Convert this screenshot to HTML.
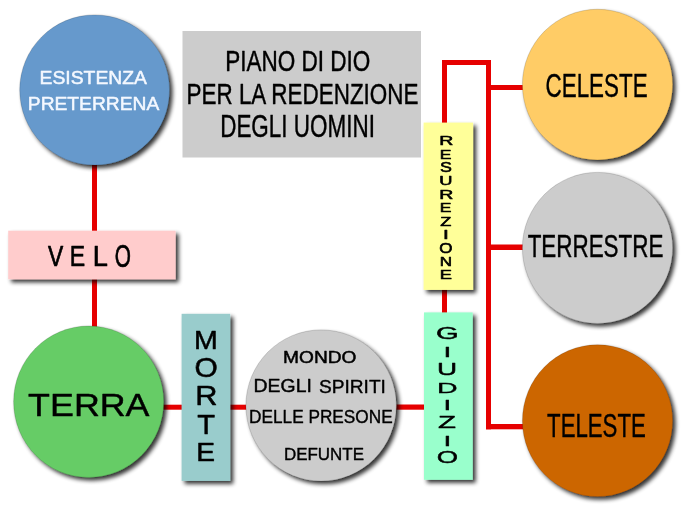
<!DOCTYPE html>
<html><head><meta charset="utf-8"><style>
html,body{margin:0;padding:0;background:#fff;width:683px;height:512px;overflow:hidden}
svg{display:block;will-change:transform}
text{font-family:"Liberation Sans",sans-serif}
</style></head><body>
<svg width="683" height="512" viewBox="0 0 683 512">
<defs><filter id="sh" x="-20%" y="-20%" width="140%" height="140%">
<feGaussianBlur in="SourceAlpha" stdDeviation="2.1"/><feOffset dx="3" dy="3" result="o"/>
<feComponentTransfer in="o" result="s"><feFuncA type="linear" slope="0.8"/></feComponentTransfer>
<feMerge><feMergeNode in="s"/><feMergeNode in="SourceGraphic"/></feMerge></filter></defs>
<rect x="92" y="150" width="5" height="180" fill="#e60000"/>
<rect x="160" y="404.7" width="90" height="5.0" fill="#e60000"/>
<rect x="390" y="404.5" width="40" height="5.2" fill="#e60000"/>
<rect x="442" y="60" width="5" height="258" fill="#e60000"/>
<rect x="442" y="60" width="49" height="5" fill="#e60000"/>
<rect x="486" y="60" width="5" height="369.3" fill="#e60000"/>
<rect x="486" y="85" width="39" height="5" fill="#e60000"/>
<rect x="486" y="244.5" width="39" height="5.5" fill="#e60000"/>
<rect x="486" y="424" width="39" height="5.3" fill="#e60000"/>
<ellipse cx="94.6" cy="90" rx="74.89999999999999" ry="75.1" fill="#6699cc" stroke="#000" stroke-opacity="0.18" stroke-width="0.8" filter="url(#sh)"/>
<rect x="182.5" y="31" width="238.5" height="126.5" fill="#cccccc"/>
<rect x="8.2" y="230.7" width="167.4" height="48.6" fill="#ffcccc" filter="url(#sh)"/>
<ellipse cx="88.65" cy="401.7" rx="75.05" ry="75.69999999999999" fill="#66cc66" stroke="#000" stroke-opacity="0.18" stroke-width="0.8" filter="url(#sh)"/>
<rect x="181.6" y="313.8" width="48.6" height="167.1" fill="#99cccc" filter="url(#sh)"/>
<ellipse cx="321.1" cy="405.5" rx="75.19999999999999" ry="75.6" fill="#cccccc" stroke="#000" stroke-opacity="0.18" stroke-width="0.8" filter="url(#sh)"/>
<rect x="424" y="312.4" width="48.7" height="167.4" fill="#99ffcc" filter="url(#sh)"/>
<rect x="423.6" y="122.6" width="49.5" height="167.3" fill="#ffff99" filter="url(#sh)"/>
<ellipse cx="597.5" cy="84.6" rx="75.1" ry="75.3" fill="#ffcc66" stroke="#000" stroke-opacity="0.18" stroke-width="0.8" filter="url(#sh)"/>
<ellipse cx="597.5" cy="247.9" rx="75.1" ry="75.5" fill="#cccccc" stroke="#000" stroke-opacity="0.18" stroke-width="0.8" filter="url(#sh)"/>
<ellipse cx="597.5" cy="420.7" rx="75.1" ry="75.89999999999999" fill="#cc6600" stroke="#000" stroke-opacity="0.18" stroke-width="0.8" filter="url(#sh)"/>
<text x="225.16" y="70.95" font-size="29.99" font-weight="normal" fill="#000" stroke="#000" stroke-width="0.45" stroke-linejoin="round" textLength="145.16" lengthAdjust="spacingAndGlyphs">PIANO DI DIO</text>
<text x="186.51" y="103.95" font-size="29.99" font-weight="normal" fill="#000" stroke="#000" stroke-width="0.45" stroke-linejoin="round" textLength="231.97" lengthAdjust="spacingAndGlyphs">PER LA REDENZIONE</text>
<text x="220.17" y="136.95" font-size="31.75" font-weight="normal" fill="#000" stroke="#000" stroke-width="0.45" stroke-linejoin="round" textLength="154.71" lengthAdjust="spacingAndGlyphs">DEGLI UOMINI</text>
<text x="39.54" y="83.54" font-size="19.28" font-weight="normal" fill="#f4f8ff" stroke="#f4f8ff" stroke-width="0.5" stroke-linejoin="round" textLength="107.42" lengthAdjust="spacingAndGlyphs">ESISTENZA</text>
<text x="27.80" y="109.56" font-size="19.03" font-weight="normal" fill="#f4f8ff" stroke="#f4f8ff" stroke-width="0.5" stroke-linejoin="round" textLength="131.50" lengthAdjust="spacingAndGlyphs">PRETERRENA</text>
<text x="28.14" y="416.46" font-size="32.16" font-weight="normal" fill="#000" stroke="#000" stroke-width="0.45" stroke-linejoin="round" textLength="121.38" lengthAdjust="spacingAndGlyphs">TERRA</text>
<text x="545.60" y="97.45" font-size="33.83" font-weight="normal" fill="#000" stroke="#000" stroke-width="0.45" stroke-linejoin="round" textLength="101.96" lengthAdjust="spacingAndGlyphs">CELESTE</text>
<text x="527.63" y="256.62" font-size="31.11" font-weight="normal" fill="#000" stroke="#000" stroke-width="0.45" stroke-linejoin="round" textLength="135.73" lengthAdjust="spacingAndGlyphs">TERRESTRE</text>
<text x="547.08" y="437.28" font-size="32.84" font-weight="normal" fill="#000" stroke="#000" stroke-width="0.45" stroke-linejoin="round" textLength="98.73" lengthAdjust="spacingAndGlyphs">TELESTE</text>
<text x="283.13" y="362.58" font-size="17.30" font-weight="normal" fill="#000" stroke="#000" stroke-width="0.5" stroke-linejoin="round" textLength="73.36" lengthAdjust="spacingAndGlyphs">MONDO</text>
<text x="249.12" y="423.44" font-size="18.88" font-weight="normal" fill="#000" stroke="#000" stroke-width="0.4" stroke-linejoin="round" textLength="143.53" lengthAdjust="spacingAndGlyphs">DELLE PRESONE</text>
<text x="283.93" y="459.93" font-size="17.40" font-weight="normal" fill="#000" stroke="#000" stroke-width="0.4" stroke-linejoin="round" textLength="80.05" lengthAdjust="spacingAndGlyphs">DEFUNTE</text>
<text x="48.06" y="265.91" font-size="30.27" font-weight="normal" fill="#000" stroke="#000" stroke-width="0.7" stroke-linejoin="round" textLength="15.25" lengthAdjust="spacingAndGlyphs">V</text>
<text x="69.83" y="265.91" font-size="30.27" font-weight="normal" fill="#000" stroke="#000" stroke-width="0.7" stroke-linejoin="round" textLength="15.39" lengthAdjust="spacingAndGlyphs">E</text>
<text x="92.69" y="265.91" font-size="30.27" font-weight="normal" fill="#000" stroke="#000" stroke-width="0.7" stroke-linejoin="round" textLength="15.15" lengthAdjust="spacingAndGlyphs">L</text>
<text x="114.70" y="266.70" font-size="31.87" font-weight="normal" fill="#000" stroke="#000" stroke-width="0.7" stroke-linejoin="round" textLength="16.17" lengthAdjust="spacingAndGlyphs">O</text>
<text x="253.63" y="391.78" font-size="17.68" font-weight="normal" fill="#000" stroke="#000" stroke-width="0.4" stroke-linejoin="round" textLength="58.19" lengthAdjust="spacingAndGlyphs">DEGLI</text>
<text x="318.99" y="393.46" font-size="19.13" font-weight="normal" fill="#000" stroke="#000" stroke-width="0.4" stroke-linejoin="round" textLength="66.89" lengthAdjust="spacingAndGlyphs">SPIRITI</text>
<text x="194.00" y="348.80" font-size="25.14" font-weight="normal" fill="#000" stroke="#000" stroke-width="0.5" stroke-linejoin="round" textLength="23.75" lengthAdjust="spacingAndGlyphs">M</text>
<text x="194.45" y="377.23" font-size="27.52" font-weight="normal" fill="#000" stroke="#000" stroke-width="0.5" stroke-linejoin="round" textLength="23.28" lengthAdjust="spacingAndGlyphs">O</text>
<text x="195.15" y="405.46" font-size="26.84" font-weight="normal" fill="#000" stroke="#000" stroke-width="0.5" stroke-linejoin="round" textLength="22.22" lengthAdjust="spacingAndGlyphs">R</text>
<text x="197.25" y="433.63" font-size="26.87" font-weight="normal" fill="#000" stroke="#000" stroke-width="0.5" stroke-linejoin="round" textLength="17.84" lengthAdjust="spacingAndGlyphs">T</text>
<text x="196.30" y="461.29" font-size="25.39" font-weight="normal" fill="#000" stroke="#000" stroke-width="0.5" stroke-linejoin="round" textLength="18.77" lengthAdjust="spacingAndGlyphs">E</text>
<text x="439.26" y="144.89" font-size="13.21" font-weight="normal" fill="#000" stroke="#000" stroke-width="0.6" stroke-linejoin="round" textLength="14.08" lengthAdjust="spacingAndGlyphs">R</text>
<text x="439.77" y="158.77" font-size="13.21" font-weight="normal" fill="#000" stroke="#000" stroke-width="0.6" stroke-linejoin="round" textLength="11.69" lengthAdjust="spacingAndGlyphs">E</text>
<text x="440.13" y="171.74" font-size="13.92" font-weight="normal" fill="#000" stroke="#000" stroke-width="0.6" stroke-linejoin="round" textLength="11.89" lengthAdjust="spacingAndGlyphs">S</text>
<text x="439.32" y="185.02" font-size="13.35" font-weight="normal" fill="#000" stroke="#000" stroke-width="0.6" stroke-linejoin="round" textLength="13.20" lengthAdjust="spacingAndGlyphs">U</text>
<text x="439.26" y="198.80" font-size="13.21" font-weight="normal" fill="#000" stroke="#000" stroke-width="0.6" stroke-linejoin="round" textLength="14.08" lengthAdjust="spacingAndGlyphs">R</text>
<text x="439.77" y="211.98" font-size="13.21" font-weight="normal" fill="#000" stroke="#000" stroke-width="0.6" stroke-linejoin="round" textLength="11.69" lengthAdjust="spacingAndGlyphs">E</text>
<text x="440.18" y="225.80" font-size="13.21" font-weight="normal" fill="#000" stroke="#000" stroke-width="0.6" stroke-linejoin="round" textLength="11.08" lengthAdjust="spacingAndGlyphs">Z</text>
<text x="443.08" y="238.98" font-size="13.21" font-weight="normal" fill="#000" stroke="#000" stroke-width="0.6" stroke-linejoin="round" textLength="5.76" lengthAdjust="spacingAndGlyphs">I</text>
<text x="439.29" y="252.86" font-size="14.10" font-weight="normal" fill="#000" stroke="#000" stroke-width="0.6" stroke-linejoin="round" textLength="13.23" lengthAdjust="spacingAndGlyphs">O</text>
<text x="439.85" y="265.80" font-size="13.21" font-weight="normal" fill="#000" stroke="#000" stroke-width="0.6" stroke-linejoin="round" textLength="12.32" lengthAdjust="spacingAndGlyphs">N</text>
<text x="439.68" y="278.98" font-size="13.21" font-weight="normal" fill="#000" stroke="#000" stroke-width="0.6" stroke-linejoin="round" textLength="12.19" lengthAdjust="spacingAndGlyphs">E</text>
<text x="436.06" y="339.35" font-size="15.89" font-weight="normal" fill="#000" stroke="#000" stroke-width="0.4" stroke-linejoin="round" textLength="22.67" lengthAdjust="spacingAndGlyphs">G</text>
<text x="443.46" y="357.20" font-size="15.39" font-weight="normal" fill="#000" stroke="#000" stroke-width="0.4" stroke-linejoin="round" textLength="7.80" lengthAdjust="spacingAndGlyphs">I</text>
<text x="437.12" y="375.29" font-size="15.61" font-weight="normal" fill="#000" stroke="#000" stroke-width="0.4" stroke-linejoin="round" textLength="20.12" lengthAdjust="spacingAndGlyphs">U</text>
<text x="436.99" y="393.05" font-size="15.35" font-weight="normal" fill="#000" stroke="#000" stroke-width="0.4" stroke-linejoin="round" textLength="20.56" lengthAdjust="spacingAndGlyphs">D</text>
<text x="443.49" y="410.11" font-size="15.13" font-weight="normal" fill="#000" stroke="#000" stroke-width="0.4" stroke-linejoin="round" textLength="7.69" lengthAdjust="spacingAndGlyphs">I</text>
<text x="438.10" y="428.20" font-size="15.57" font-weight="normal" fill="#000" stroke="#000" stroke-width="0.4" stroke-linejoin="round" textLength="18.00" lengthAdjust="spacingAndGlyphs">Z</text>
<text x="443.46" y="445.96" font-size="15.39" font-weight="normal" fill="#000" stroke="#000" stroke-width="0.4" stroke-linejoin="round" textLength="7.80" lengthAdjust="spacingAndGlyphs">I</text>
<text x="436.68" y="463.39" font-size="16.14" font-weight="normal" fill="#000" stroke="#000" stroke-width="0.4" stroke-linejoin="round" textLength="21.36" lengthAdjust="spacingAndGlyphs">O</text>
</svg></body></html>
